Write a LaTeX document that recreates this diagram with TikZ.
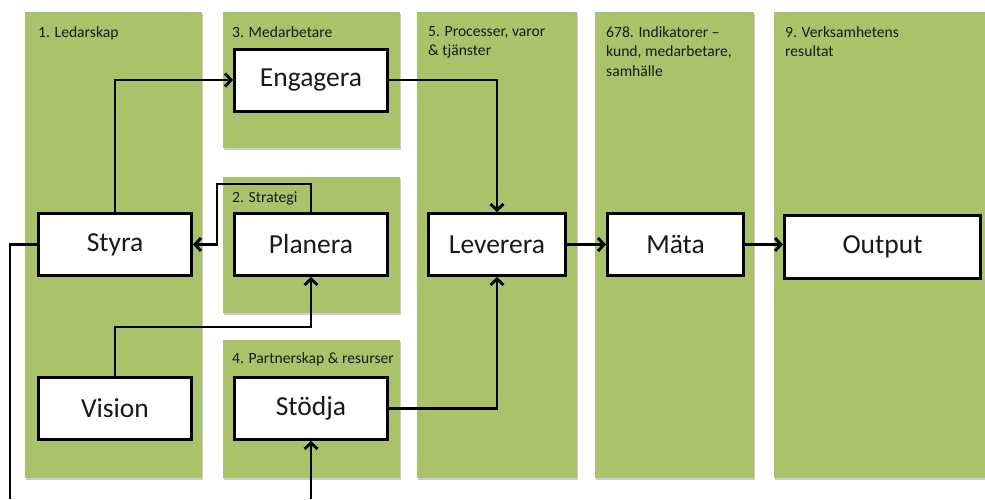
\documentclass[tikz,border=0pt]{standalone}
\usepackage{fontspec}
\setmainfont{Carlito}
\usetikzlibrary{arrows.meta,calc,shadows}
\definecolor{PanelClr}{RGB}{169,195,106}
\definecolor{TextClr}{RGB}{25,25,25}

\begin{document}
\begin{tikzpicture}[x=1pt,y=-1pt,
  panel/.style={fill=PanelClr,anchor=north west,inner sep=0pt,outer sep=0pt,
    drop shadow={shadow xshift=0.6pt,shadow yshift=-1.6pt,fill=black!25,opacity=0.8}},
  paneltxt/.style={anchor=north west,inner sep=0pt,align=left,text=TextClr,
    font=\fontsize{15.6}{19.5}\selectfont},
  box/.style={draw=black,fill=white,line width=3pt,minimum width=153pt,
    minimum height=62pt,inner sep=0pt,text=TextClr,font=\fontsize{27.5}{31}\selectfont},
  conn/.style={line width=2.9pt,-{Straight Barb[length=6pt,width=13pt]}},
  line/.style={line width=2.9pt}]

\useasboundingbox (0,0) rectangle (985,499);

% columns
\node[panel,minimum width=177pt,minimum height=466pt] (ledar) at (25,12) {};
\node[panel,minimum width=177pt,minimum height=136pt] (medarb) at (223,12) {};
\node[panel,minimum width=177pt,minimum height=136pt] (strat) at (223,177) {};
\node[panel,minimum width=177pt,minimum height=138pt] (partner) at (223,340) {};
\node[panel,minimum width=160pt,minimum height=466pt] (process) at (417,12) {};
\node[panel,minimum width=159pt,minimum height=466pt] (indik) at (595,12) {};
\node[panel,minimum width=211pt,minimum height=466pt] (result) at (774,12) {};

\node[paneltxt] (ledarTxt) at ($(ledar.north west)+(13,14)$) {1. Ledarskap};
\node[paneltxt] (medarbTxt) at ($(medarb.north west)+(9,14)$) {3. Medarbetare};
\node[paneltxt] (stratTxt) at ($(strat.north west)+(9,15)$) {2. Strategi};
\node[paneltxt] (partnerTxt) at ($(partner.north west)+(9,12)$) {4. Partnerskap \& resurser};
\node[paneltxt] (processTxt) at ($(process.north west)+(11,14)$) {5. Processer, varor\\\& tjänster};
\node[paneltxt] (indikTxt) at ($(indik.north west)+(11,14)$) {678. Indikatorer --\\kund, medarbetare,\\samhälle};
\node[paneltxt] (resultTxt) at ($(result.north west)+(11,14)$) {9. Verksamhetens\\resultat};

% boxes
\node[box] (styra) at (115,244.5) {Styra};
\node[box] (engagera) at (311,80) {Engagera};
\node[box] (planera) at (311,244.5) {Planera};
\node[box] (vision) at (115,408.5) {Vision};
\node[box] (stodja) at (311,408.5) {Stödja};
\node[box,minimum width=137pt] (leverera) at (497,244.5) {Leverera};
\node[box,minimum width=136pt] (mata) at (675.5,244.5) {Mäta};
\node[box,minimum width=196pt,minimum height=63pt] (output) at (882.5,247) {Output};

\coordinate (inStyra) at (10,499);
\coordinate (inStodja) at (311,499);

% connectors
\draw[conn] (styra.north) |- (engagera.west);
\draw[conn] (engagera.east) -| (leverera.north);
\draw[conn] (planera.north) -- ++(0,-28) -- ++(-94,0) |- (styra.east);
\draw[conn] (vision.north) -- ++(0,-49) -| (planera.south);
\draw[conn] (stodja.east) -| (leverera.south);
\draw[conn] (inStodja) -- (stodja.south);
\draw[line] (inStyra) |- (styra.west);
\draw[conn] (leverera.east) -- (mata.west);
\draw[conn] (mata.east) -- (mata.east -| output.west);

\end{tikzpicture}
\end{document}
